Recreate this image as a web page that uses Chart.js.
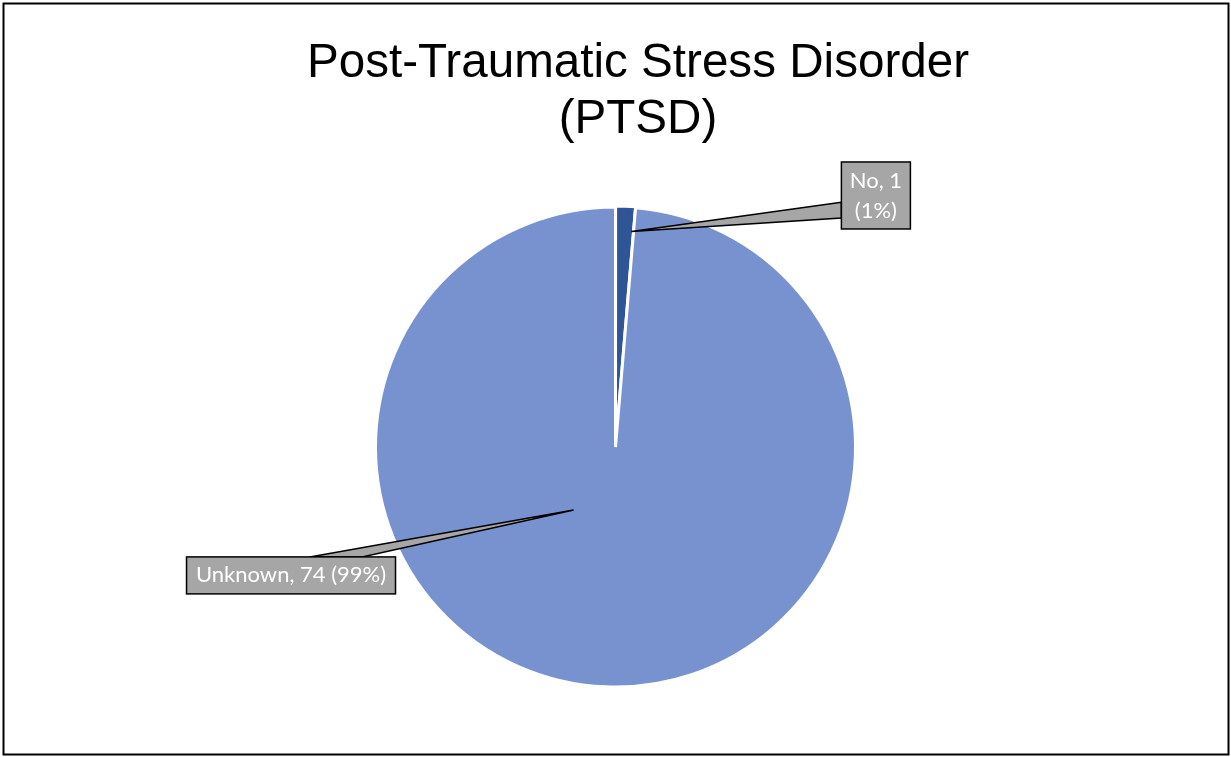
<!DOCTYPE html>
<html><head><meta charset="utf-8">
<script src="https://cdn.jsdelivr.net/npm/chart.js@4/dist/chart.umd.min.js"></script>
<style>html,body{margin:0;padding:0;background:#fff}#wrap{position:relative;width:1231px;height:757px}canvas{display:block}</style>
</head><body><div id="wrap"><canvas id="c" width="1231" height="757"></canvas></div>
<script>
// ---- data ----
const titleLines = ['Post-Traumatic Stress Disorder', '(PTSD)'];
const categories = ['No', 'Unknown'];
const counts = [1, 74];
const sliceColors = ['#2F5597', '#7891CF'];

// ---- label callout layout (relative to pie centre, in radius units) ----
const calloutLayout = [
  {cx: 1.085, cy: -1.048, w: 69, h: 67, wrap: true, lh: 30, side: 'left', b0: 0.60, b1: 0.835, tipF: 0.88, tipR: 0.90},
  {cx: -1.352, cy: 0.535, w: 209, h: 37, wrap: false, lh: 30, side: 'top', b0: 0.59, b1: 0.84, tipF: 0.588, tipR: 0.315}
];

const total = counts.reduce((a, b) => a + b, 0);
function labelLines(i) {
  const pct = Math.round(counts[i] / total * 100);
  const a = categories[i] + ', ' + counts[i];
  const b = '(' + pct + '%)';
  return calloutLayout[i].wrap ? [a, b] : [a + ' ' + b];
}

const decor = {
  id: 'decor',
  beforeDraw(chart) {
    const ctx = chart.ctx;
    ctx.save();
    ctx.fillStyle = '#fff';
    ctx.fillRect(0, 0, chart.width, chart.height);
    ctx.restore();
  },
  afterDatasetsDraw(chart) {
    const ctx = chart.ctx;
    const meta = chart.getDatasetMeta(0);
    const ref = meta.data[1];
    const pcx = ref.x, pcy = ref.y, R = ref.outerRadius;
    ctx.save();
    meta.data.forEach((arc, i) => {
      const L = calloutLayout[i];
      const bx = pcx + L.cx * R - L.w / 2;
      const by = pcy + L.cy * R - L.h / 2;
      const a = arc.startAngle + L.tipF * (arc.endAngle - arc.startAngle);
      const tx = arc.x + L.tipR * arc.outerRadius * Math.cos(a);
      const ty = arc.y + L.tipR * arc.outerRadius * Math.sin(a);
      let p0, p1;
      if (L.side === 'left') { p0 = [bx, by + L.b0 * L.h]; p1 = [bx, by + L.b1 * L.h]; }
      else { p0 = [bx + L.b0 * L.w, by]; p1 = [bx + L.b1 * L.w, by]; }
      ctx.beginPath();
      ctx.moveTo(p0[0], p0[1]); ctx.lineTo(tx, ty); ctx.lineTo(p1[0], p1[1]); ctx.closePath();
      ctx.fillStyle = '#A6A6A6'; ctx.fill();
      ctx.lineWidth = 1.5; ctx.strokeStyle = '#000'; ctx.stroke();
      ctx.fillStyle = '#A6A6A6';
      ctx.fillRect(bx, by, L.w, L.h);
      ctx.strokeRect(bx, by, L.w, L.h);
      const lines = labelLines(i);
      ctx.fillStyle = '#fff';
      ctx.font = '22px Lato';
      ctx.textAlign = 'center'; ctx.textBaseline = 'middle';
      lines.forEach((t, k) => {
        ctx.fillText(t, bx + L.w / 2, by + L.h / 2 + (k - (lines.length - 1) / 2) * L.lh);
      });
    });
    ctx.restore();
  },
  afterDraw(chart) {
    const ctx = chart.ctx;
    ctx.save();
    ctx.fillStyle = '#000';
    ctx.font = '47.6px "Liberation Sans"';
    ctx.textAlign = 'center'; ctx.textBaseline = 'alphabetic';
    titleLines.forEach((t, k) => ctx.fillText(t, 638, 77 + k * 56));
    ctx.lineWidth = 2; ctx.strokeStyle = '#000';
    ctx.strokeRect(3.5, 3.5, 1225, 751);
    ctx.restore();
  }
};

new Chart(document.getElementById('c'), {
  type: 'pie',
  data: {
    labels: categories,
    datasets: [{
      data: counts,
      backgroundColor: sliceColors,
      borderColor: '#fff',
      borderWidth: 3,
      offset: [2, 0],
      radius: 240
    }]
  },
  options: {
    responsive: false,
    devicePixelRatio: 1,
    animation: false,
    layout: {padding: {top: 207, bottom: 70, left: 0, right: 0}},
    plugins: {legend: {display: false}, tooltip: {enabled: false}, title: {display: false}}
  },
  plugins: [decor]
});
</script></body></html>
